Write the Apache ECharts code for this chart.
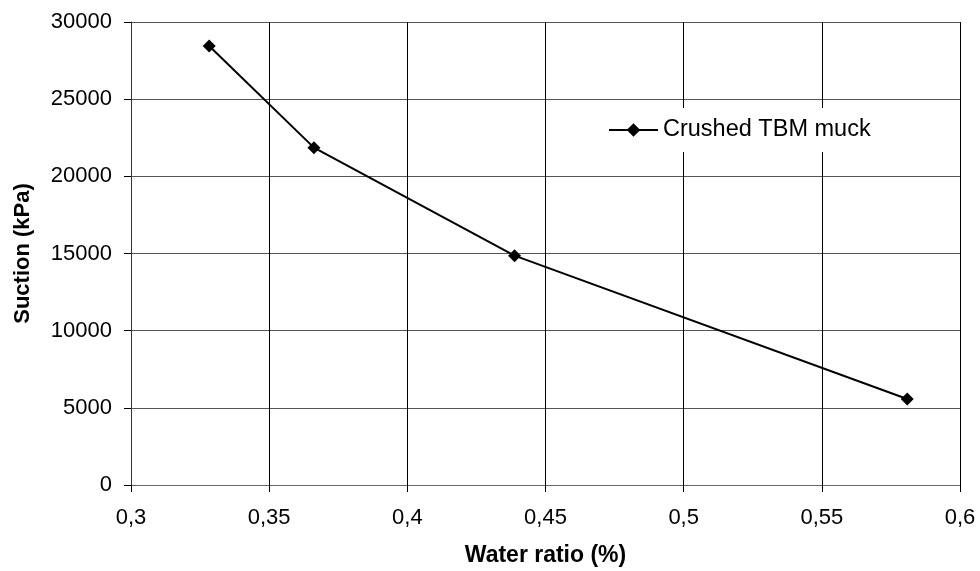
<!DOCTYPE html>
<html>
<head>
<meta charset="utf-8">
<script src="https://cdn.jsdelivr.net/npm/echarts@6/dist/echarts.min.js"></script>
<style>html,body{margin:0;padding:0;background:#fff}#c{width:980px;height:571px}</style>
</head>
<body>
<div id="c"></div>
<script>
const seriesName = 'Crushed TBM muck';
const waterRatio = [0.3283, 0.3662, 0.4388, 0.5809];
const suction = [28450, 21860, 14860, 5570];
const xTicks = [0.3, 0.35, 0.4, 0.45, 0.5, 0.55, 0.6];
const yTicks = [0, 5000, 10000, 15000, 20000, 25000, 30000];
const xName = 'Water ratio (%)';
const yName = 'Suction (kPa)';

const font = 'Liberation Sans, Arial, sans-serif';
const chart = echarts.init(document.getElementById('c'));
chart.setOption({
  animation: false,
  backgroundColor: '#fff',
  grid: { left: 131, right: 20, top: 22, bottom: 86, containLabel: false, outerBoundsMode: 'none' },
  legend: {
    data: [seriesName],
    left: 598, top: 108,
    padding: [10, 10],
    backgroundColor: '#fff',
    itemWidth: 49, itemHeight: 17,
    textStyle: { fontFamily: font, fontSize: 23.5, color: '#000' }
  },
  xAxis: {
    type: 'value',
    min: xTicks[0], max: xTicks[xTicks.length - 1], interval: 0.05,
    name: xName, nameLocation: 'middle', nameGap: 59,
    nameTextStyle: { fontFamily: font, fontSize: 23, fontWeight: 'bold', color: '#000' },
    axisLine: { lineStyle: { color: '#666', width: 1 } },
    axisTick: { show: true, length: 7, lineStyle: { color: '#000' } },
    axisLabel: {
      margin: 22, fontFamily: font, fontSize: 22, color: '#000',
      formatter: v => String(+v.toFixed(2)).replace('.', ',')
    },
    splitLine: { show: true, lineStyle: { color: '#000', width: 1 } }
  },
  yAxis: {
    type: 'value',
    min: yTicks[0], max: yTicks[yTicks.length - 1], interval: 5000,
    name: yName, nameLocation: 'middle', nameGap: 97,
    nameTextStyle: { fontFamily: font, fontSize: 22, fontWeight: 'bold', color: '#000' },
    axisLine: { show: true, lineStyle: { color: '#333', width: 1 } },
    axisTick: { show: true, length: 7, lineStyle: { color: '#000' } },
    axisLabel: { margin: 19, fontFamily: font, fontSize: 22, color: '#000', formatter: v => String(v) },
    splitLine: { show: true, lineStyle: { color: '#555', width: 1 } }
  },
  series: [{
    name: seriesName,
    type: 'line',
    data: waterRatio.map((x, i) => [x, suction[i]]),
    symbol: 'diamond',
    symbolSize: 13,
    lineStyle: { color: '#000', width: 2 },
    itemStyle: { color: '#000' }
  }]
});
</script>
</body>
</html>
